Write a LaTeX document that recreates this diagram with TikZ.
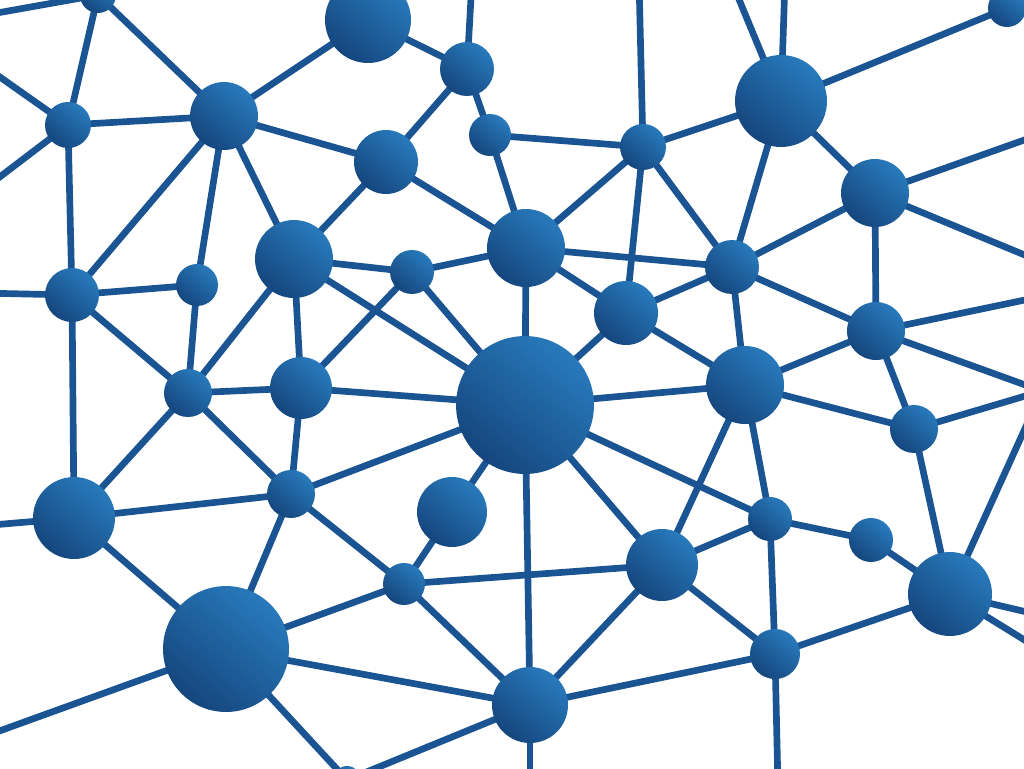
\documentclass[tikz,border=0pt]{standalone}
\usetikzlibrary{backgrounds}

\definecolor{nodelight}{RGB}{40,122,188}
\definecolor{nodedark}{RGB}{21,70,126}
\definecolor{linkblue}{RGB}{27,84,146}

\begin{document}
\begin{tikzpicture}[x=0.02cm, y=-0.02cm,
	hubnode/.style={circle, inner sep=0pt, minimum size=#1*0.04cm,
		top color=nodelight, bottom color=nodedark, shading angle=-40},
	link/.style={draw=linkblue, line width=3.8pt, shorten <=-3pt, shorten >=-3pt}]
		\useasboundingbox (0,0) rectangle (1024,768);
		\clip (0,0) rectangle (1024,768);
	
		% the nodes
		\node[hubnode=18] (n1) at (98,-5) {};
		\node[hubnode=43] (n2) at (368,20) {};
		\node[hubnode=19] (n3) at (1007,8) {};
		\node[hubnode=23] (n4) at (68,125) {};
		\node[hubnode=34] (n5) at (224,116) {};
		\node[hubnode=27] (n6) at (467,69) {};
		\node[hubnode=21] (n7) at (490,135) {};
		\node[hubnode=32] (n8) at (386,162) {};
		\node[hubnode=23] (n9) at (643,147) {};
		\node[hubnode=46] (n10) at (781,101) {};
		\node[hubnode=34] (n11) at (875,193) {};
		\node[hubnode=27] (n12) at (72,295) {};
		\node[hubnode=21] (n13) at (197,285) {};
		\node[hubnode=39] (n14) at (294,259) {};
		\node[hubnode=22] (n15) at (412,272) {};
		\node[hubnode=39] (n16) at (526,248) {};
		\node[hubnode=27] (n17) at (732,267) {};
		\node[hubnode=32] (n18) at (626,313) {};
		\node[hubnode=29] (n19) at (876,331) {};
		\node[hubnode=24] (n20) at (188,393) {};
		\node[hubnode=31] (n21) at (301,388) {};
		\node[hubnode=69] (n22) at (525,405) {};
		\node[hubnode=39] (n23) at (745,385) {};
		\node[hubnode=24] (n24) at (914,429) {};
		\node[hubnode=41] (n25) at (74,518) {};
		\node[hubnode=24] (n26) at (291,494) {};
		\node[hubnode=35] (n27) at (452,512) {};
		\node[hubnode=22] (n28) at (770,519) {};
		\node[hubnode=22] (n29) at (871,540) {};
		\node[hubnode=21] (n30) at (404,584) {};
		\node[hubnode=36] (n31) at (662,565) {};
		\node[hubnode=42] (n32) at (950,594) {};
		\node[hubnode=63] (n33) at (226,649) {};
		\node[hubnode=38] (n34) at (530,705) {};
		\node[hubnode=25] (n35) at (775,654) {};
		\node[hubnode=14] (n36) at (347,780) {};
	
		% the loose ends outside the frame
		\coordinate (h1) at (1042,391);
		\coordinate (w1) at (-20,16);
		\coordinate (w2) at (-20,63);
		\coordinate (w3) at (-20,192);
		\coordinate (w4) at (-20,293);
		\coordinate (w5) at (-20,526);
		\coordinate (w6) at (-20,738);
		\coordinate (t1) at (472,-20);
		\coordinate (t2) at (639,-20);
		\coordinate (t3) at (731,-20);
		\coordinate (t4) at (785,-20);
		\coordinate (e1) at (1044,133);
		\coordinate (e2) at (1044,263);
		\coordinate (e3) at (1044,296);
		\coordinate (e4) at (1044,616);
		\coordinate (e5) at (1044,652);
		\coordinate (b1) at (778,788);
		\coordinate (b2) at (530,788);
	
		% draw the links
		\begin{pgfonlayer}{background}
		\fill[white] (0,0) rectangle (1024,768);
		\clip (0,0) rectangle (1024,768);
		\draw[link] (n1) -- (w1);
		\draw[link] (n1) -- (n4);
		\draw[link] (n1) -- (n5);
		\draw[link] (n4) -- (w2);
		\draw[link] (n4) -- (w3);
		\draw[link] (n4) -- (n5);
		\draw[link] (n4) -- (n12);
		\draw[link] (n5) -- (n2);
		\draw[link] (n5) -- (n8);
		\draw[link] (n5) -- (n12);
		\draw[link] (n5) -- (n13);
		\draw[link] (n5) -- (n14);
		\draw[link] (n2) -- (n6);
		\draw[link] (n6) -- (t1);
		\draw[link] (n6) -- (n7);
		\draw[link] (n6) -- (n8);
		\draw[link] (n8) -- (n16);
		\draw[link] (n7) -- (n16);
		\draw[link] (n7) -- (n9);
		\draw[link] (n14) -- (n8);
		\draw[link] (n14) -- (n15);
		\draw[link] (n14) -- (n21);
		\draw[link] (n14) -- (n20);
		\draw[link] (n14) -- (n22);
		\draw[link] (n13) -- (n12);
		\draw[link] (n13) -- (n20);
		\draw[link] (n12) -- (n20);
		\draw[link] (n12) -- (w4);
		\draw[link] (n12) -- (n25);
		\draw[link] (n15) -- (n16);
		\draw[link] (n15) -- (n21);
		\draw[link] (n15) -- (n22);
		\draw[link] (n9) -- (t2);
		\draw[link] (n10) -- (t3);
		\draw[link] (n10) -- (t4);
		\draw[link] (n10) -- (n3);
		\draw[link] (n9) -- (n10);
		\draw[link] (n9) -- (n16);
		\draw[link] (n9) -- (n17);
		\draw[link] (n9) -- (n18);
		\draw[link] (n10) -- (n17);
		\draw[link] (n10) -- (n11);
		\draw[link] (n11) -- (e1);
		\draw[link] (n11) -- (e2);
		\draw[link] (n11) -- (n17);
		\draw[link] (n11) -- (n19);
		\draw[link] (n16) -- (n17);
		\draw[link] (n17) -- (n19);
		\draw[link] (n17) -- (n18);
		\draw[link] (n17) -- (n23);
		\draw[link] (n16) -- (n18);
		\draw[link] (n18) -- (n22);
		\draw[link] (n18) -- (n23);
		\draw[link] (n16) -- (n22);
		\draw[link] (n19) -- (e3);
		\draw[link] (n19) -- (h1);
		\draw[link] (n19) -- (n24);
		\draw[link] (n19) -- (n23);
		\draw[link] (n21) -- (n20);
		\draw[link] (n21) -- (n22);
		\draw[link] (n21) -- (n26);
		\draw[link] (n20) -- (n25);
		\draw[link] (n20) -- (n26);
		\draw[link] (n25) -- (n26);
		\draw[link] (n25) -- (w5);
		\draw[link] (n25) -- (n33);
		\draw[link] (n26) -- (n33);
		\draw[link] (n26) -- (n22);
		\draw[link] (n26) -- (n30);
		\draw[link] (n27) -- (n22);
		\draw[link] (n27) -- (n30);
		\draw[link] (n30) -- (n31);
		\draw[link] (n30) -- (n33);
		\draw[link] (n30) -- (n34);
		\draw[link] (n33) -- (w6);
		\draw[link] (n33) -- (n36);
		\draw[link] (n34) -- (n36);
		\draw[link] (n33) -- (n34);
		\draw[link] (n22) -- (n23);
		\draw[link] (n22) -- (n28);
		\draw[link] (n22) -- (n31);
		\draw[link] (n22) -- (n34);
		\draw[link] (n23) -- (n31);
		\draw[link] (n23) -- (n28);
		\draw[link] (n23) -- (n24);
		\draw[link] (n24) -- (h1);
		\draw[link] (n24) -- (n32);
		\draw[link] (n32) -- (h1);
		\draw[link] (n32) -- (e4);
		\draw[link] (n32) -- (e5);
		\draw[link] (n31) -- (n28);
		\draw[link] (n31) -- (n34);
		\draw[link] (n31) -- (n35);
		\draw[link] (n28) -- (n29);
		\draw[link] (n28) -- (n35);
		\draw[link] (n29) -- (n32);
		\draw[link] (n35) -- (n32);
		\draw[link] (n35) -- (n34);
		\draw[link] (n35) -- (b1);
		\draw[link] (n34) -- (b2);
		\end{pgfonlayer}
	
	\end{tikzpicture}
\end{document}
